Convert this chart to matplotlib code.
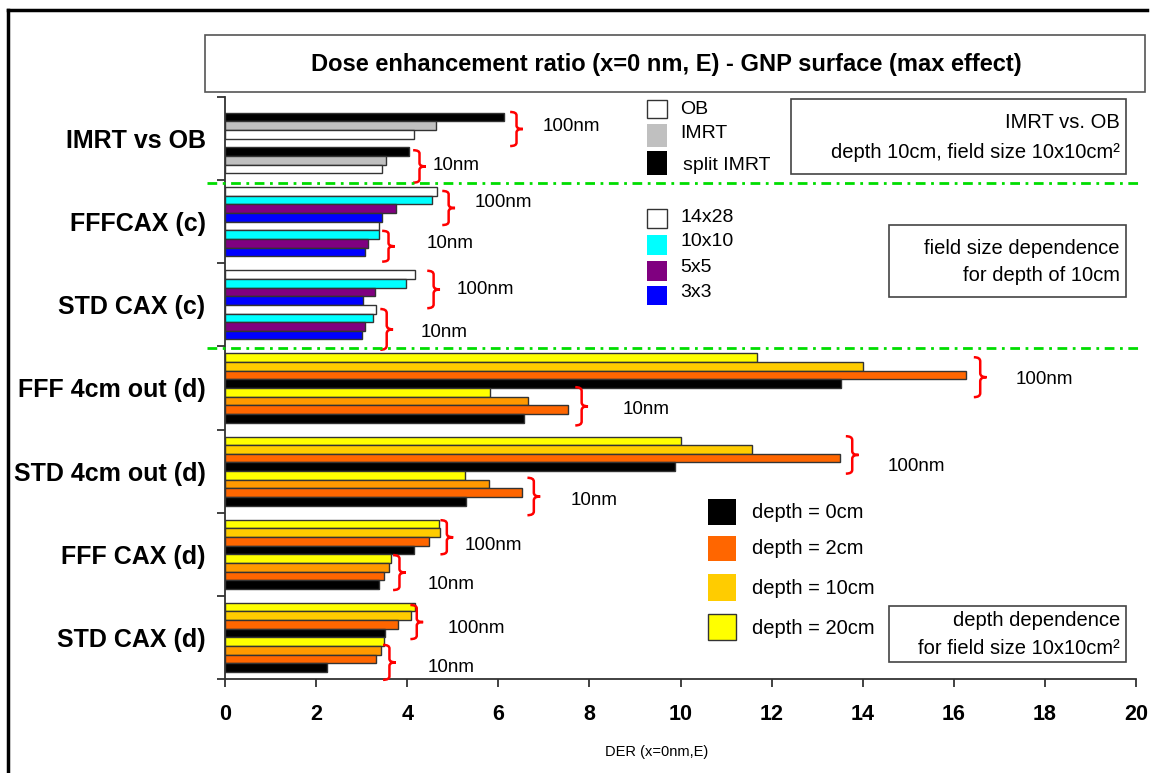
import numpy as np
import matplotlib
matplotlib.use("Agg")
import matplotlib.pyplot as plt
from matplotlib.patches import Rectangle, PathPatch
from matplotlib.path import Path
from matplotlib.lines import Line2D
import matplotlib.transforms as mtransforms

plt.rcParams['font.family'] = ['Liberation Sans', 'DejaVu Sans']

# ---------------- data ----------------
categories = ['IMRT vs OB', 'FFFCAX (c)', 'STD CAX (c)', 'FFF 4cm out (d)',
              'STD 4cm out (d)', 'FFF CAX (d)', 'STD CAX (d)']

imrt_labels = ['OB', 'IMRT', 'split IMRT']
imrt_100nm = [4.15, 4.64, 6.12]
imrt_10nm = [3.45, 3.53, 4.04]

field_labels = ['14x28', '10x10', '5x5', '3x3']
fffcax_c_100nm = [4.65, 4.55, 3.76, 3.45]
fffcax_c_10nm = [3.39, 3.39, 3.15, 3.07]
stdcax_c_100nm = [4.17, 3.98, 3.29, 3.04]
stdcax_c_10nm = [3.32, 3.26, 3.07, 3.01]

depth_labels = ['depth = 0cm', 'depth = 2cm', 'depth = 10cm', 'depth = 20cm']
fff4out_100nm = [13.52, 16.27, 14.00, 11.68]
fff4out_10nm = [6.56, 7.52, 6.65, 5.81]
std4out_100nm = [9.88, 13.51, 11.56, 10.01]
std4out_10nm = [5.29, 6.53, 5.79, 5.26]
fffcax_d_100nm = [4.16, 4.48, 4.73, 4.70]
fffcax_d_10nm = [3.38, 3.48, 3.59, 3.64]
stdcax_d_100nm = [3.51, 3.79, 4.09, 4.17]
stdcax_d_10nm = [2.24, 3.31, 3.42, 3.49]

xticks = list(range(0, 21, 2))

# ---------------- styles ----------------
imrt_colors = ['#FFFFFF', '#C0C0C0', '#000000']
field_colors = ['#FFFFFF', '#00FFFF', '#800080', '#0000FF']
depth_colors_100 = ['#000000', '#FF6600', '#FFCC00', '#FFFF00']
depth_colors_10 = ['#000000', '#FF6600', '#FF9900', '#FFFF00']
EDGE = '#333333'

W, H = 1151, 773
fig = plt.figure(figsize=(W / 100, H / 100), dpi=100)
fig.patch.set_facecolor('white')

def fx(px):
    return px / W

def fy(py):
    return 1 - py / H

ax = fig.add_axes([fx(225), fy(679), (1136 - 225) / W, (679 - 97) / H])
ax.set_xlim(0, 20)
ax.set_ylim(7, 0)

n_slots = 8
slot_h = 0.104
margin = (1 - n_slots * slot_h) / 2

def slot_y(cat, k):
    return cat + margin + (k + 0.5) * slot_h

def draw_group(cat, start, values, colors):
    n = len(values)
    for j in range(n):
        idx = n - 1 - j
        ax.barh(slot_y(cat, start + j), values[idx], height=slot_h,
                color=colors[idx], edgecolor=EDGE, linewidth=1.0, zorder=3)

# IMRT vs OB: slots 1-3 and 5-7 (top: split IMRT, IMRT, OB)
draw_group(0, 1, imrt_100nm, imrt_colors)
draw_group(0, 5, imrt_10nm, imrt_colors)

def draw_field(cat, values, start):
    for j, v in enumerate(values):
        ax.barh(slot_y(cat, start + j), v, height=slot_h, color=field_colors[j],
                edgecolor=EDGE, linewidth=1.0, zorder=3)

draw_field(1, fffcax_c_100nm, 0)
draw_field(1, fffcax_c_10nm, 4)
draw_field(2, stdcax_c_100nm, 0)
draw_field(2, stdcax_c_10nm, 4)

draw_group(3, 0, fff4out_100nm, depth_colors_100)
draw_group(3, 4, fff4out_10nm, depth_colors_10)
draw_group(4, 0, std4out_100nm, depth_colors_100)
draw_group(4, 4, std4out_10nm, depth_colors_10)
draw_group(5, 0, fffcax_d_100nm, depth_colors_100)
draw_group(5, 4, fffcax_d_10nm, depth_colors_10)
draw_group(6, 0, stdcax_d_100nm, depth_colors_100)
draw_group(6, 4, stdcax_d_10nm, depth_colors_10)

# ---------------- axes styling ----------------
for s in ['top', 'right']:
    ax.spines[s].set_visible(False)
for s in ['left', 'bottom']:
    ax.spines[s].set_color('#333333')
    ax.spines[s].set_linewidth(1.3)

ax.set_yticks(np.arange(8))
ax.set_yticklabels([])
ax.set_yticks(np.arange(7) + 0.5, minor=True)
ax.set_yticklabels(categories, minor=True, fontsize=18, fontweight='bold')
ax.tick_params(axis='y', which='major', direction='out', length=6, width=1.3, color='#333333')
ax.tick_params(axis='y', which='minor', length=0, pad=14)

ax.set_xticks(xticks)
ax.set_xticklabels([str(t) for t in xticks], fontsize=15.5, fontweight='bold')
ax.tick_params(axis='x', direction='out', length=6, width=1.3, color='#333333', pad=12)

fig.text(fx(657), fy(752), 'DER (x=0nm,E)', fontsize=10.5, ha='center', va='center')

# green separators
blend = mtransforms.blended_transform_factory(fig.transFigure, ax.transData)
for yy in [1.03, 3.02]:
    ln = Line2D([fx(207), fx(1140)], [yy, yy], transform=blend, color='#00DD00',
                linewidth=2, dashes=(3.5, 2, 1, 2), zorder=5)
    fig.add_artist(ln)

# ---------------- braces and labels ----------------
brace_specs = [  # (x_left, y_top, y_bottom, label, label_x, label_y)
    (6.26, 0.18, 0.59, '100nm', 6.97, 0.36),
    (4.13, 0.64, 1.03, '10nm', 4.55, 0.82),
    (4.77, 1.13, 1.54, '100nm', 5.49, 1.27),
    (3.45, 1.61, 1.98, '10nm', 4.42, 1.76),
    (4.44, 2.09, 2.54, '100nm', 5.08, 2.31),
    (3.41, 2.55, 3.04, '10nm', 4.29, 2.83),
    (16.44, 3.13, 3.61, '100nm', 17.36, 3.40),
    (7.69, 3.49, 3.95, '10nm', 8.73, 3.76),
    (13.63, 4.08, 4.53, '100nm', 14.55, 4.44),
    (6.64, 4.58, 5.03, '10nm', 7.58, 4.85),
    (4.73, 5.09, 5.50, '100nm', 5.27, 5.40),
    (3.69, 5.51, 5.93, '10nm', 4.44, 5.86),
    (4.07, 6.11, 6.52, '100nm', 4.88, 6.39),
    (3.47, 6.59, 7.01, '10nm', 4.44, 6.86),
]

def brace(x0, yt, yb, w=0.28):
    h = yb - yt
    xm = x0 + w / 2
    verts = [
        (x0, yt), (xm, yt), (xm, yt + 0.1 * h),
        (xm, yt + 0.4 * h),
        (xm, yt + 0.5 * h), (x0 + w, yt + 0.5 * h),
        (xm, yt + 0.5 * h), (xm, yt + 0.6 * h),
        (xm, yt + 0.9 * h),
        (xm, yb), (x0, yb),
    ]
    codes = [Path.MOVETO, Path.CURVE3, Path.CURVE3, Path.LINETO,
             Path.CURVE3, Path.CURVE3, Path.CURVE3, Path.CURVE3,
             Path.LINETO, Path.CURVE3, Path.CURVE3]
    p = PathPatch(Path(verts, codes), facecolor='none', edgecolor='#FF0000',
                  linewidth=1.8, zorder=6, clip_on=False)
    ax.add_patch(p)

for x0, yt, yb, lab, lx, ly in brace_specs:
    brace(x0, yt, yb)
    ax.text(lx, ly, lab, fontsize=13.5, ha='left', va='center', zorder=6)

# ---------------- title box ----------------
fig.add_artist(Rectangle((fx(205), fy(92)), (1145 - 205) / W, (92 - 35) / H,
                         transform=fig.transFigure, facecolor='white',
                         edgecolor='#555555', linewidth=1.2))
fig.text(fx(666), fy(64), 'Dose enhancement ratio (x=0 nm, E) - GNP surface (max effect)',
         fontsize=17, fontweight='bold', ha='center', va='center')

# outer frame
fig.add_artist(Line2D([fx(8), fx(8)], [fy(10), 0], transform=fig.transFigure,
                      color='black', linewidth=2.5))
fig.add_artist(Line2D([fx(8), fx(1147)], [fy(10), fy(10)], transform=fig.transFigure,
                      color='black', linewidth=2.5))

# ---------------- legends ----------------
def square(x0, y0, x1, y1, color, edge=None):
    fig.add_artist(Rectangle((fx(x0), fy(y1)), (x1 - x0) / W, (y1 - y0) / H,
                             transform=fig.transFigure, facecolor=color,
                             edgecolor=edge if edge else color,
                             linewidth=1.0 if edge else 0))

def ftext(x, y, s, size=14, ha='left'):
    fig.text(fx(x), fy(y), s, fontsize=size, ha=ha, va='center')

# IMRT legend
imrt_sq = [(100, 118), (124, 147), (151, 175)]
imrt_tx = [(680, 110), (680, 134), (683, 165)]
for i, lab in enumerate(imrt_labels):
    edge = '#333333' if i == 0 else None
    square(647, imrt_sq[i][0], 667, imrt_sq[i][1], imrt_colors[i], edge)
    ftext(imrt_tx[i][0], imrt_tx[i][1], lab)

# field legend
field_sq = [(209, 228), (235, 255), (261, 281), (286, 305)]
field_ty = [217, 242, 268, 293]
for i, lab in enumerate(field_labels):
    edge = '#333333' if i == 0 else None
    square(647, field_sq[i][0], 667, field_sq[i][1], field_colors[i], edge)
    ftext(680, field_ty[i], lab)

# depth legend
depth_sq = [(499, 525), (536, 561), (574, 601), (614, 640)]
depth_ty = [512, 549, 588, 628]
depth_leg_colors = ['#000000', '#FF6600', '#FFCC00', '#FFFF00']
for i, lab in enumerate(depth_labels):
    edge = '#333333' if i == 3 else None
    square(708, depth_sq[i][0], 736, depth_sq[i][1], depth_leg_colors[i], edge)
    ftext(752, depth_ty[i], lab, size=14.5)

# info boxes
def info_box(x0, y0, x1, y1, lines):
    fig.add_artist(Rectangle((fx(x0), fy(y1)), (x1 - x0) / W, (y1 - y0) / H,
                             transform=fig.transFigure, facecolor='white',
                             edgecolor='#444444', linewidth=1.2))
    for s, yy in lines:
        ftext(1120, yy, s, size=14.5, ha='right')

info_box(791, 99, 1126, 174, [('IMRT vs. OB', 122),
                              ('depth 10cm, field size 10x10cm²', 152)])
info_box(889, 225, 1126, 297, [('field size dependence', 248),
                               ('for depth of 10cm', 275)])
info_box(889, 606, 1126, 662, [('depth dependence', 621),
                               ('for field size 10x10cm²', 648)])

fig.savefig('out.png', dpi=100, facecolor='white')
